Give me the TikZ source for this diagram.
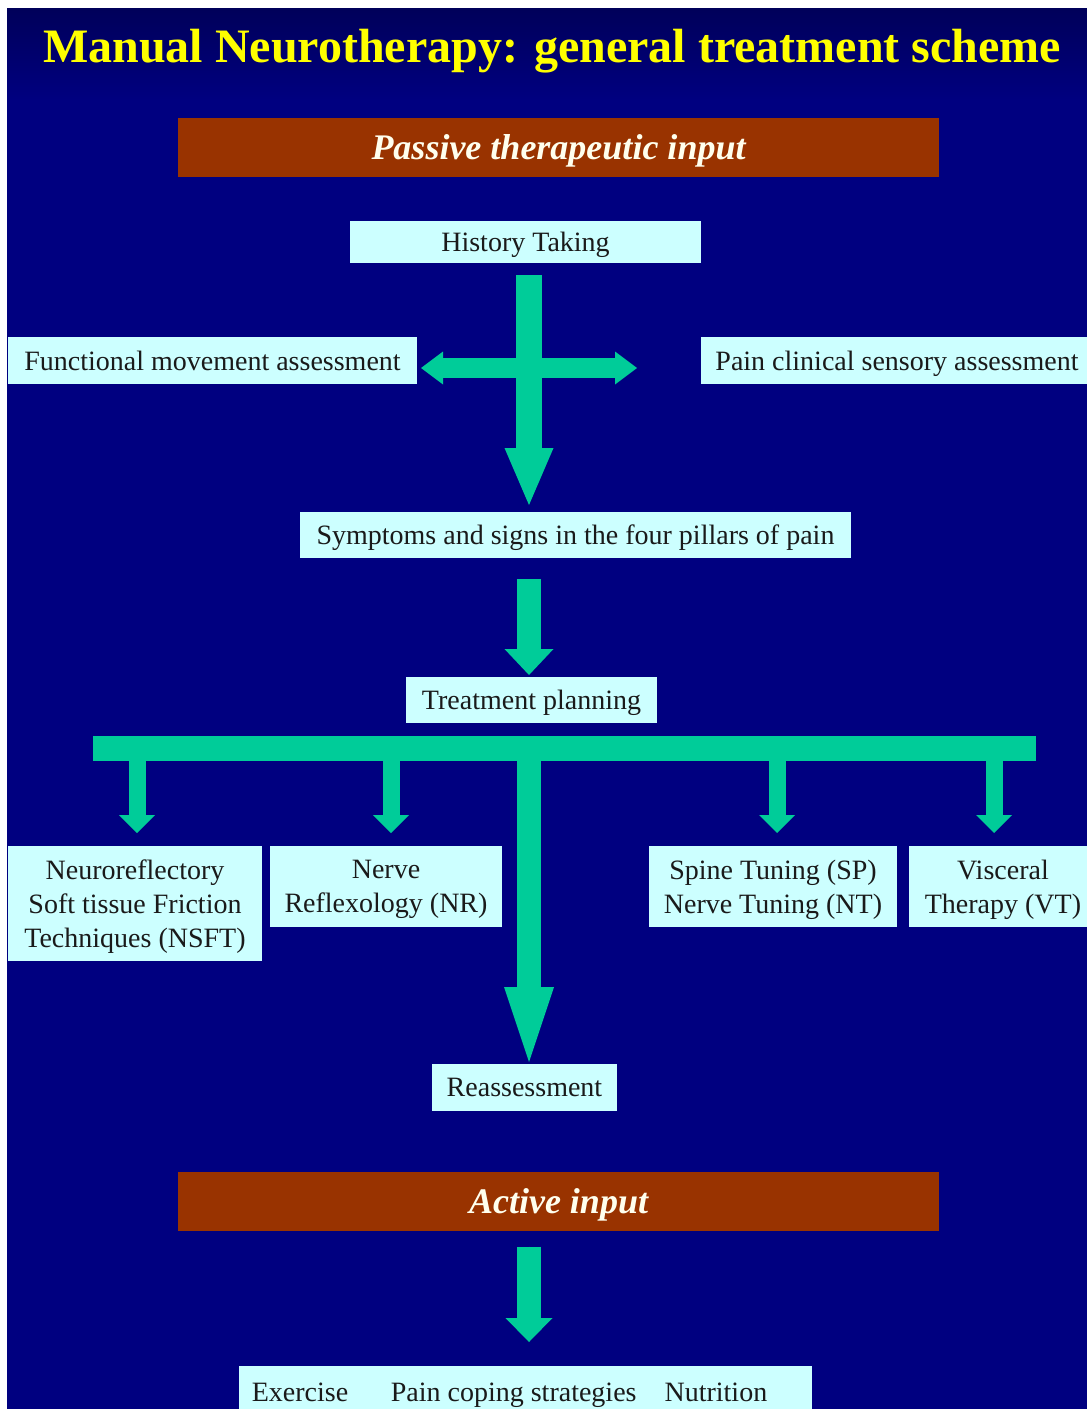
\documentclass[tikz,border=0pt]{standalone}
\usepackage{fontspec}
\setmainfont{Liberation Serif}
\usetikzlibrary{arrows.meta}

\definecolor{slidebg}{HTML}{000080}
\definecolor{titlebg}{HTML}{00005A}
\definecolor{boxfill}{HTML}{CCFFFF}
\definecolor{boxtext}{HTML}{1A1A1A}
\definecolor{barbrown}{HTML}{993300}
\definecolor{bartext}{HTML}{FFFFEE}
\definecolor{flowgreen}{HTML}{00CC99}
\definecolor{titleyellow}{HTML}{FFFF00}

\begin{document}
\begin{tikzpicture}[x=0.75pt, y=-0.75pt,
    stepbox/.style={fill=boxfill, text=boxtext, inner sep=0pt, outer sep=0pt,
      text depth=0pt, align=center, font=\fontsize{21}{25.5}\selectfont},
    phasebar/.style={fill=barbrown, text=bartext, inner sep=0pt, outer sep=0pt,
      text depth=0pt, minimum width=570.75pt, minimum height=44.25pt,
      font=\fontsize{27}{32}\selectfont\bfseries\itshape},
    flow/.style={draw=flowgreen, fill=flowgreen, line cap=butt}]

  % slide background
  \useasboundingbox (0,0) rectangle (1087,1409);
  \fill[white] (0,0) rectangle (1087,1409);
  \fill[slidebg] (7,9) rectangle (1087,1409);
  \shade[top color=titlebg, bottom color=slidebg] (7,9) rectangle (1087,100);

  \node[text=titleyellow, font=\fontsize{36}{40}\selectfont\bfseries] (title) at (552,51)
    {Manual Neurotherapy: general treatment scheme};

  \node[phasebar] (passive) at (558.5,147.5) {Passive therapeutic input};

  \node[stepbox, minimum width=263.25pt, minimum height=31.5pt] (hist) at (525.5,242) {History Taking};
  \node[stepbox, minimum width=306.75pt, minimum height=35.25pt] (func) at (212.5,360.5)
    {Functional movement assessment};
  \node[stepbox, minimum width=294pt, minimum height=35.25pt] (pain) at (897,360.5)
    {Pain clinical sensory assessment};
  \node[stepbox, minimum width=413.25pt, minimum height=34.5pt] (symp) at (575.5,535)
    {Symptoms and signs in the four pillars of pain};
  \node[stepbox, minimum width=188.25pt, minimum height=34.5pt] (plan) at (531.5,700)
    {Treatment planning};

  \node[stepbox, minimum width=190.5pt, minimum height=86.25pt] (nsft) at (135,903.5)
    {Neuroreflectory\\Soft tissue Friction\\Techniques (NSFT)};
  \node[stepbox, minimum width=174pt, minimum height=60.75pt] (nr) at (386,886.5)
    {Nerve\\Reflexology (NR)};
  \node[stepbox, minimum width=186pt, minimum height=60.75pt] (spnt) at (773,886.5)
    {Spine Tuning (SP)\\Nerve Tuning (NT)};
  \node[stepbox, minimum width=141pt, minimum height=60.75pt] (vt) at (1003,886.5)
    {Visceral\\Therapy (VT)};

  \node[stepbox, minimum width=138.75pt, minimum height=35.25pt] (reas) at (524.5,1087.5)
    {Reassessment};

  \node[phasebar] (active) at (558.5,1201) {Active input};

  \node[stepbox, minimum width=429.75pt, minimum height=39pt] (acts) at (525.5,1392)
    {Exercise\hspace{32pt}Pain coping strategies\hspace{21pt}Nutrition\hspace{24pt}};

  % arrows
  \coordinate (spine) at (529,0);
  \coordinate (cross) at (529,368);
  \coordinate (barL) at (93,748.5);
  \coordinate (barR) at (1036,748.5);

  \draw[flow, line width=19.5pt,
        -{Triangle[length=42.75pt, width=36.75pt, line width=0pt]}]
    ([yshift=-9pt]spine |- hist.south) -- ([yshift=5.25pt]spine |- symp.north);
  \draw[flow, line width=15pt,
        {Triangle[length=16.5pt, width=24.75pt, line width=0pt]}-{Triangle[length=16.5pt, width=24.75pt, line width=0pt]}]
    ([xshift=3pt]func.east |- cross) -- ([xshift=-48pt]pain.west |- cross);

  \draw[flow, line width=18pt,
        -{Triangle[length=19.5pt, width=36.75pt, line width=0pt]}]
    ([yshift=-15.75pt]spine |- symp.south) -- ([yshift=1.5pt]spine |- plan.north);

  \draw[flow, line width=18.75pt] (barL) -- (barR);
  \draw[flow, line width=18pt,
        -{Triangle[length=56.25pt, width=37.5pt, line width=0pt]}]
    (spine |- barL) -- ([yshift=1.5pt]spine |- reas.north);
  \foreach \bx/\target in {137/nsft, 391/nr, 777/spnt, 994/vt}
    \draw[flow, line width=12.75pt,
          -{Triangle[length=13.5pt, width=27pt, line width=0pt]}]
      (\bx,748.5) -- ([yshift=9.75pt]\bx,748.5 |- \target.north);

  \draw[flow, line width=18pt,
        -{Triangle[length=18pt, width=35.25pt, line width=0pt]}]
    ([yshift=-12pt]spine |- active.south) -- ([yshift=18pt]spine |- acts.north);
\end{tikzpicture}
\end{document}
